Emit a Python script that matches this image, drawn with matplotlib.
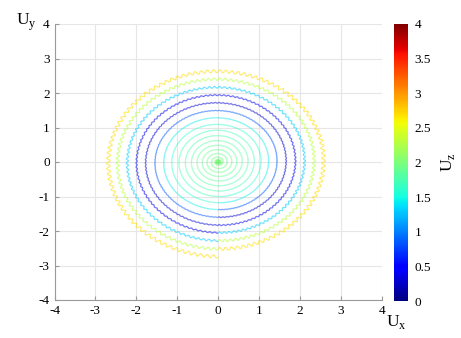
import numpy as np
import matplotlib
matplotlib.use("Agg")
import matplotlib.pyplot as plt
from matplotlib.collections import LineCollection

plt.rcParams['font.family'] = ['Liberation Serif', 'DejaVu Serif']
plt.rcParams['axes.unicode_minus'] = False

# radius reached at the end of each turn (inner -> outer)
turn_r = [0.02, 0.04, 0.06, 0.09, 0.19, 0.30, 0.42, 0.55, 0.69, 0.84, 1.00, 1.18, 1.38, 1.60, 1.83, 2.05, 2.28, 2.52, 2.74]
# Uz of each turn (colour)
turn_uz = [2.0, 2.0, 2.0, 2.0, 1.95, 1.9, 1.9, 1.85, 1.8, 1.75, 1.7, 1.6, 1.45, 0.85, 0.3, 0.4, 1.3, 2.3, 2.7]
# amplitude of the small wiggle of each turn
turn_wave = [0, 0, 0, 0, 0, 0, 0, 0, 0, 0, 0, 0, 0.005, 0.01, 0.015, 0.02, 0.03, 0.04, 0.05]
xticks = [-4, -3, -2, -1, 0, 1, 2, 3, 4]
cbar_ticks = [0, 0.5, 1, 1.5, 2, 2.5, 3, 3.5, 4]

n = 600
xs, ys, cs = [], [], []
r0 = 0.0
for k in range(len(turn_r)):
    t = np.linspace(0, 1, n)
    th = -np.pi / 2 + 2 * np.pi * t
    r = r0 + (turn_r[k] - r0) * t + turn_wave[k] * np.sin(110 * th)
    xs.append(r * np.cos(th))
    ys.append(r * np.sin(th))
    cs.append(np.full(n, turn_uz[k]))
    r0 = turn_r[k]
x = np.concatenate(xs)
y = np.concatenate(ys)
c = np.concatenate(cs)

pts = np.column_stack([x, y]).reshape(-1, 1, 2)
segs = np.concatenate([pts[:-1], pts[1:]], axis=1)

fig = plt.figure(figsize=(4.61, 3.38), dpi=100)
ax = fig.add_axes([54.5 / 461, 1 - 300 / 338, 327.5 / 461, 276 / 338])
lc = LineCollection(segs, cmap="jet", norm=plt.Normalize(0, 4), linewidths=0.9, alpha=0.55)
lc.set_array(c[:-1])
ax.add_collection(lc)

ax.set_xlim(-4, 4)
ax.set_ylim(-4, 4)
ax.set_xticks(xticks)
ax.set_yticks(xticks)
ax.grid(True, color="#e6e6e6", linewidth=0.8)
ax.set_axisbelow(True)
for s in ["top", "right"]:
    ax.spines[s].set_visible(False)
for s in ["left", "bottom"]:
    ax.spines[s].set_color("#9a9a9a")
ax.tick_params(direction="in", length=3, color="#9a9a9a", labelsize=9.5)

fig.text(16 / 461, 1 - 22 / 338, "U$_\\mathregular{y}$", fontsize=12.5, va="center")
fig.text(386 / 461, 1 - 322 / 338, "U$_\\mathregular{x}$", fontsize=12.5, va="center")

cax = fig.add_axes([394 / 461, 1 - 301 / 338, 13.5 / 461, 277 / 338])
cb = fig.colorbar(lc, cax=cax, ticks=cbar_ticks)
cb.solids.set_alpha(1)
cb.outline.set_visible(False)
cb.ax.tick_params(length=0, labelsize=9.5, pad=5)
cb.ax.set_yticklabels(["0", "0.5", "1", "1.5", "2", "2.5", "3", "3.5", "4"])
cb.set_label("U$_\\mathregular{z}$", fontsize=12.5, labelpad=6)

fig.savefig("out.png", dpi=100)
